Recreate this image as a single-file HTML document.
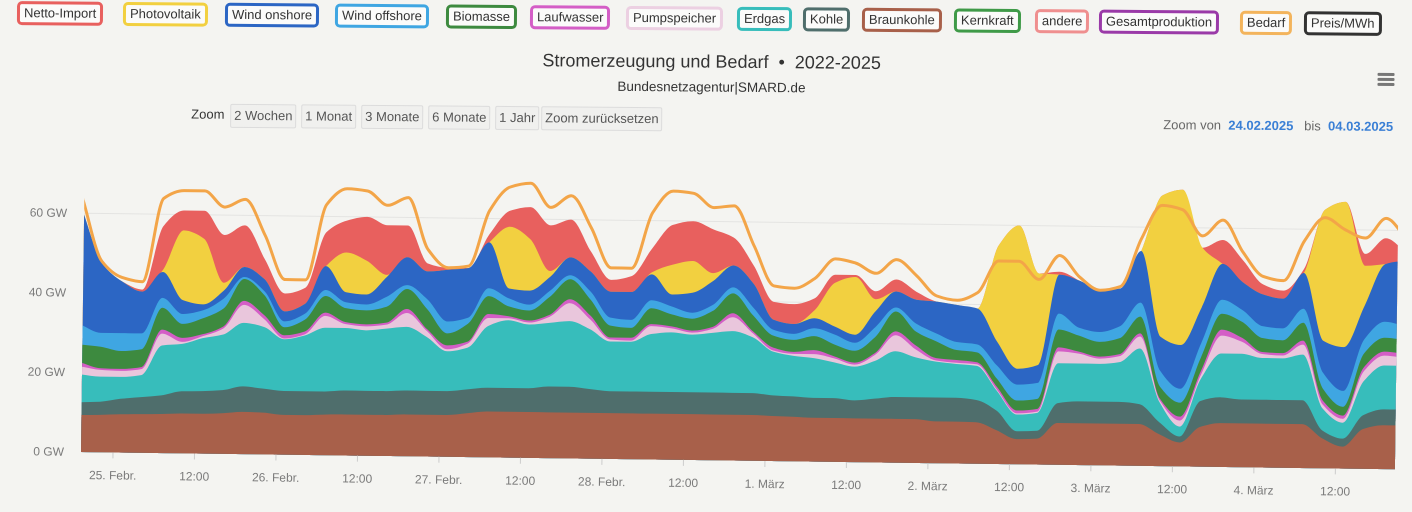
<!DOCTYPE html>
<html lang="de">
<head>
<meta charset="utf-8">
<title>Stromerzeugung und Bedarf</title>
<style>
  html,body{margin:0;padding:0;}
  body{width:1412px;height:512px;overflow:hidden;background:#f4f4f1;font-family:"Liberation Sans",sans-serif;position:relative;}
  #header{position:absolute;left:0;top:0;width:1412px;height:140px;transform:rotate(0.45deg);transform-origin:0 12px;}
  .lg{position:absolute;top:1px;height:18px;line-height:18px;padding:0 4px;border:3px solid;border-radius:5px;background:#fbfbfa;font-size:13px;color:#333;white-space:nowrap;}
  .title{position:absolute;left:0;width:1424px;text-align:center;color:#333;}
  .zbtn{position:absolute;top:102px;height:22px;line-height:22px;padding:0 3px;border:1px solid #dcdcdc;background:#f0f0ee;font-size:13px;color:#555;border-radius:2px;}
  .ham{position:absolute;left:1378px;width:17px;height:3px;background:#777;border-radius:1px;}
</style>
</head>
<body>
<div id="header">
  <span class="lg" style="left:17px;border-color:#e8605e">Netto-Import</span>
  <span class="lg" style="left:123px;border-color:#f2d040">Photovoltaik</span>
  <span class="lg" style="left:225px;border-color:#2c66c4">Wind onshore</span>
  <span class="lg" style="left:335px;border-color:#3fa6e2">Wind offshore</span>
  <span class="lg" style="left:446px;border-color:#3d8a3f">Biomasse</span>
  <span class="lg" style="left:530px;border-color:#d45ec6">Laufwasser</span>
  <span class="lg" style="left:626px;border-color:#ecd0e2">Pumpspeicher</span>
  <span class="lg" style="left:737px;border-color:#37bdbb">Erdgas</span>
  <span class="lg" style="left:803px;border-color:#4f6e6c">Kohle</span>
  <span class="lg" style="left:862px;border-color:#a8604a">Braunkohle</span>
  <span class="lg" style="left:954px;border-color:#3f9a48">Kernkraft</span>
  <span class="lg" style="left:1035px;border-color:#ef8f8f">andere</span>
  <span class="lg" style="left:1099px;border-color:#9a3aa8">Gesamtproduktion</span>
  <span class="lg" style="left:1240px;border-color:#f3b45c">Bedarf</span>
  <span class="lg" style="left:1304px;border-color:#333">Preis/MWh</span>

  <div class="title" style="top:46px;font-size:18px;">Stromerzeugung und Bedarf &nbsp;•&nbsp; 2022-2025</div>
  <div class="title" style="top:74px;font-size:13.5px;">Bundesnetzagentur|SMARD.de</div>

  <div style="position:absolute;left:1376px;top:60px;width:22px;height:18px;">
    <div class="ham" style="top:2px;left:2px"></div><div class="ham" style="top:7px;left:2px"></div><div class="ham" style="top:12px;left:2px"></div>
  </div>

  <span style="position:absolute;left:192px;top:105px;font-size:13px;color:#333;">Zoom</span>
  <span class="zbtn" style="left:231px">2 Wochen</span>
  <span class="zbtn" style="left:302px">1 Monat</span>
  <span class="zbtn" style="left:362px">3 Monate</span>
  <span class="zbtn" style="left:429px">6 Monate</span>
  <span class="zbtn" style="left:496px">1 Jahr</span>
  <span class="zbtn" style="left:542px">Zoom zurücksetzen</span>

  <div style="position:absolute;right:18px;top:108px;font-size:13px;color:#666;">
    Zoom von &nbsp;<span style="color:#3a7fd5;font-weight:bold">24.02.2025</span>&nbsp;&nbsp; bis &nbsp;<span style="color:#3a7fd5;font-weight:bold">04.03.2025</span>
  </div>
</div>

<svg id="chart" width="1412" height="512" style="position:absolute;left:0;top:0" xmlns="http://www.w3.org/2000/svg">
  <defs><clipPath id="plotClip"><rect x="81" y="100" width="1314" height="353"/></clipPath></defs>
  <g id="rot" transform="rotate(0.75 81 452)">
    <g id="grid"></g>
    <g id="areas" clip-path="url(#plotClip)"></g>
    <g id="axes"></g>
  </g>
</svg>

<script>
// hours from 25 Feb 2025 00:00
const hours = [-5,-2,1,4,7,10,13,16,19,22,25,28,31,34,37,40,43,46,49,52,55,58,61,64,67,70,73,76,79,82,85,88,91,94,97,100,103,106,109,112,115,118,121,124,127,130,133,136,139,142,145,148,151,154,157,160,163,166,169,172,175,178,181,184,187,190];
const braunkohle = [9.3,9.4,9.6,9.7,9.8,10,10,10.2,10.6,10.5,10,10,10.2,10.3,10.3,10.3,10.5,10.5,10.5,11,11.5,11.5,11.5,11.5,11.5,11.5,11.5,11.5,11.5,11.5,11.5,11.5,11.5,11.5,11.3,11.2,11,11,11,11,11,11,10.5,10.5,10.4,8.5,6.3,6.5,10.5,10.5,10.5,10.5,10.5,8,6,10,11,11,11,11,11,7.5,5.5,10,11,11];
const kohle = [3.2,3.3,3.9,4.3,4.7,5.6,5.7,5.8,6.4,6,6,6,5.8,6,6,6,6,6,6,6,6,6,6,6.5,6.5,6,5.5,5.5,5.5,5.5,5.5,5.5,5.5,5.5,5.2,5.1,5,5,4.5,5,5.5,5.5,6,6,5.6,4.9,2,2,5,5.5,5.5,5.5,5,3,1.5,6.5,6.5,6,6,6,6,2,2,3.5,4,4];
const erdgas = [7,6.3,5.5,5.5,12.5,11.9,13.3,14,16,15.5,13,14,16,15.7,15.2,15.7,16,13.5,10,10.5,15.5,17,16,16,16.5,15,12.5,12.5,14.5,15,14.5,15,15.5,14,11,10.2,10,9,8.5,9.5,11.5,10,9,8.5,8.6,5,4.2,4.5,10,9.5,9.5,10,14,5,2.5,5.5,11,11.5,10.5,10.5,11.5,5.5,4,8.5,11,11];
const pumpspeicher = [2,1.7,1.5,1.5,3,0.5,0.5,1.5,4.5,2,0.2,0.3,3,1,1,1,3.5,1.5,0.5,1,2,0.5,0.5,1.5,4.5,2.5,0.5,0.3,2,1,0.5,1,3.5,1,0.3,0.5,1,1,0.5,1.5,4,2,0.3,0.3,0.4,0.3,0.3,0.3,3,2.5,1.3,1.5,3,0.5,1.5,1,4.5,3,1,0.7,2.5,1,1,2.5,2.5,2];
const laufwasser = [1,0.4,0.5,0.5,1,1,0.5,0.5,1,1,0.8,0.7,0.8,0.5,0.5,0.5,1,0.5,1,0.5,1,0.5,0.5,0.5,1,1,0.5,0.7,0.5,0.5,0.5,0.5,1,0.5,0.7,0.5,1,0.5,0.5,0.5,1,1,0.6,0.7,0.5,0.7,0.7,0.7,1,0.5,0.5,0.5,0.8,0.5,1,1,1.5,1,0.5,0.6,1,1,0.8,1,1,1];
const biomasse = [4.5,5.4,4.5,4.5,5.5,3.5,4,4.5,5.5,5,2,3,4.2,3.5,3.5,4,5,5,3,4.5,4.5,2.5,2.5,4.5,5,4,3,2.5,4,3,3,4,5,4,3,3,3.5,3,3,4,5,3.5,4.2,2.5,2.5,2,2.5,2.5,4.5,4,3.7,4,4.2,3,3.5,3.5,4,4,3.5,3.2,4.5,3,2.2,3.5,3.5,3.5];
const windOffshore = [5,3.5,4.5,4,2.5,2.5,2,2.5,0.5,1,1.5,1.5,1.5,1.5,1.5,2.5,1,2.5,3,1.5,2,2,1.5,1.5,1,2,2,2,2,2,1.5,1.5,1.5,2,1.5,1.5,2,2.5,2,2.5,1,2,2,2,2,3.3,4,4,4,2,2.5,3,3.5,4,3.5,3.5,3.5,3,3,3,3.5,4,4,3.5,4,3.5];
const windOnshore = [29,17.5,13,10.5,6.5,3.5,1.5,2,2.5,3,2.5,2.5,6,2.5,2.5,5,7,7,13,12.5,11.5,2.5,3.5,3.5,4.5,5,6.5,7,6.5,3,5,6,5.5,6,2.5,2.5,2.5,2,2,4,4,6,8,9.3,9,5.9,4,4.5,9.8,11.8,10.5,9.5,13,8.5,11,9,9,7,8,7.5,9,8,11,8.5,14.5,16.5];
const photovoltaik = [0,0,0,0,0.5,17.5,16.5,2,0,0,0,0,0,10,8.5,0.5,0,0,0,0,0,15.5,13,1.5,0,0,0,0,0.5,7.5,8,2,0,0,0,0,2,11,14.5,3,0,0,0,0,0,24.3,36,23,0,0,0,0,0,35.5,39,15,0,0,0,0,0,33,36.5,10,0,0];
const nettoImport = [0,0,0,0.5,11,5,7,12,10.5,5,4.5,4,8.5,8,11,12.5,8,2,0.5,0,2,4,8,11.5,9.5,5,3,4,6,10,10,11,7,4.5,4.5,5,3,2,0.5,2,3,2,0,0,0,0,0,0,0.7,0,0,0,0,0,0,0,6,5.5,2.5,2,1,0,0,3,6.5,2];
const bedarf = [64,48,44,43,64,66,66,62,64,55,44,44,63,67,66.5,63,65,52,47.5,48,62,68,69,63,66,58,48,48,62,67.5,67,63.5,64,54,44,43.5,46,51,50,47.5,51,47,42,41,43,51,51,46.5,52.6,47.2,44,45,57,65.5,64.5,58,62,54,48,47,57,63,60,58,63,58];

const yTicks = [0,20,40,60];
const yTickLabels = ["0 GW","20 GW","40 GW","60 GW"];
const xTickHours = [0,12,24,36,48,60,72,84,96,108,120,132,144,156,168,180];
const xTickLabels = ["25. Febr.","12:00","26. Febr.","12:00","27. Febr.","12:00","28. Febr.","12:00","1. März","12:00","2. März","12:00","3. März","12:00","4. März","12:00"];

const SVGNS = "http://www.w3.org/2000/svg";
const X0 = 113, PX_PER_H = 163/24, BASE = 452, PX_PER_GW = 3.98;
function xs(h){ return X0 + h*PX_PER_H; }
function ys(v){ return BASE - v*PX_PER_GW; }

function monoPath(px, py){
  const n = px.length, m = new Array(n), d = [];
  for(let i=0;i<n-1;i++) d.push((py[i+1]-py[i])/(px[i+1]-px[i]));
  m[0]=d[0]; m[n-1]=d[n-2];
  for(let i=1;i<n-1;i++){
    if(d[i-1]*d[i]<=0) m[i]=0;
    else m[i] = 2/(1/d[i-1]+1/d[i]);
  }
  let s = "M"+px[0].toFixed(1)+","+py[0].toFixed(1);
  for(let i=0;i<n-1;i++){
    const dx=(px[i+1]-px[i])/3;
    s += " C"+(px[i]+dx).toFixed(1)+","+(py[i]+m[i]*dx).toFixed(1)+" "+(px[i+1]-dx).toFixed(1)+","+(py[i+1]-m[i+1]*dx).toFixed(1)+" "+px[i+1].toFixed(1)+","+py[i+1].toFixed(1);
  }
  return s;
}

const layerData = [braunkohle,kohle,erdgas,pumpspeicher,laufwasser,biomasse,windOffshore,windOnshore,photovoltaik,nettoImport];
const layerColors = ["#a8604a","#4f6e6c","#37bdbb","#e9c6dc","#d45ec6","#3d8a3f","#3fa6e2","#2c66c4","#f2d040","#e8605e"];
const layerNames = ["area-braunkohle","area-kohle","area-erdgas","area-pumpspeicher","area-laufwasser","area-biomasse","area-wind-offshore","area-wind-onshore","area-photovoltaik","area-netto-import"];

const grid = document.getElementById("grid");
const axes = document.getElementById("axes");
const areas = document.getElementById("areas");

yTicks.forEach((v,i)=>{
  if(v>0){
    const ln = document.createElementNS(SVGNS,"line");
    ln.setAttribute("x1",81); ln.setAttribute("x2",1395);
    ln.setAttribute("y1",ys(v)); ln.setAttribute("y2",ys(v));
    ln.setAttribute("stroke","#e4e4e2"); ln.setAttribute("stroke-width","1");
    
    
    grid.appendChild(ln);
  }
  const t = document.createElementNS(SVGNS,"text");
  t.setAttribute("x",64); t.setAttribute("y",ys(v)+4);
  t.setAttribute("text-anchor","end");
  t.setAttribute("font-size","12"); t.setAttribute("fill","#7a7a7a");
  t.setAttribute("font-family","Liberation Sans, sans-serif");
  t.textContent = yTickLabels[i];
  
  
  axes.appendChild(t);
});

xTickHours.forEach((h,i)=>{
  const tk = document.createElementNS(SVGNS,"line");
  tk.setAttribute("x1",xs(h)); tk.setAttribute("x2",xs(h));
  tk.setAttribute("y1",BASE); tk.setAttribute("y2",BASE+6);
  tk.setAttribute("stroke","#ccc");
  
  
  axes.appendChild(tk);
  const t = document.createElementNS(SVGNS,"text");
  t.setAttribute("x",xs(h)); t.setAttribute("y",BASE+27);
  t.setAttribute("text-anchor","middle");
  t.setAttribute("font-size","12"); t.setAttribute("fill","#7a7a7a");
  t.setAttribute("font-family","Liberation Sans, sans-serif");
  t.textContent = xTickLabels[i];
  
  
  axes.appendChild(t);
});

const px = hours.map(xs);
const cum = hours.map(()=>0);
const tops = [];
layerData.forEach(arr=>{
  arr.forEach((v,i)=>{ cum[i]+=v; });
  tops.push(cum.slice());
});
for(let k=tops.length-1;k>=0;k--){
  const py = tops[k].map(ys);
  const p = document.createElementNS(SVGNS,"path");
  const d = monoPath(px,py)+" L"+px[px.length-1].toFixed(1)+","+BASE+" L"+px[0].toFixed(1)+","+BASE+" Z";
  p.setAttribute("d",d);
  p.setAttribute("fill",layerColors[k]);
  
  
  areas.appendChild(p);
}
const line = document.createElementNS(SVGNS,"path");
line.setAttribute("d",monoPath(px,bedarf.map(ys)));
line.setAttribute("fill","none");
line.setAttribute("stroke","#f3a548");
line.setAttribute("stroke-width","3");
line.setAttribute("stroke-linejoin","round");


areas.appendChild(line);
</script>
</body>
</html>
